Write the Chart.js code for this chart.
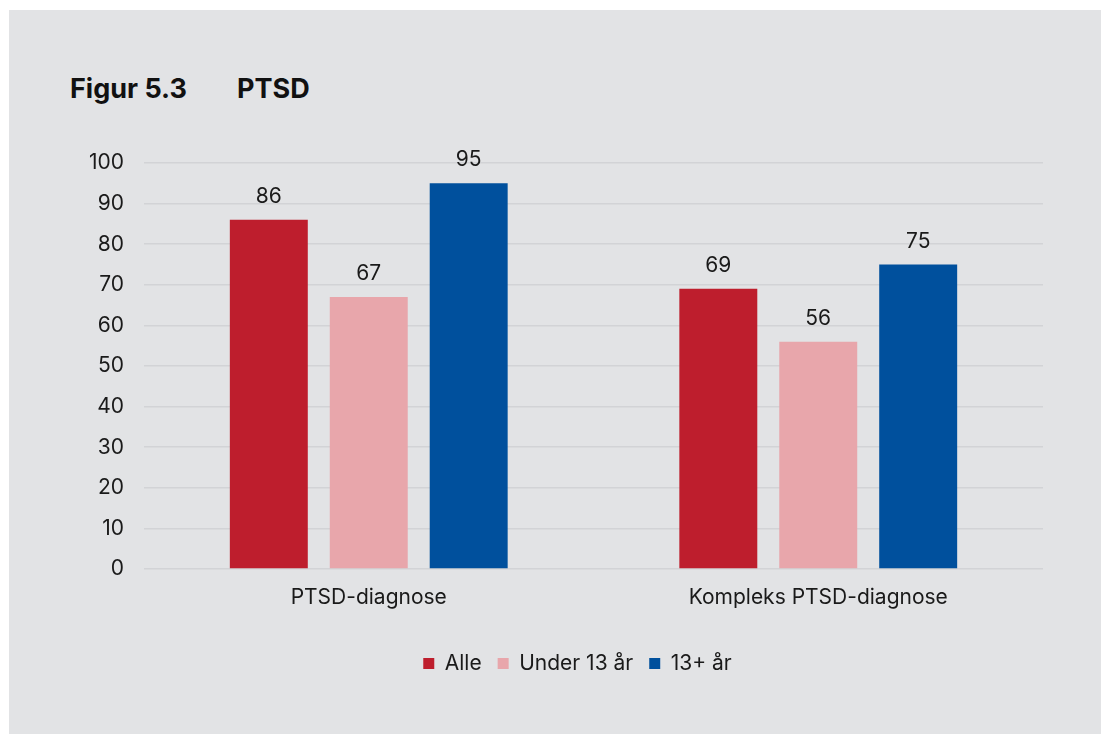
<!DOCTYPE html>
<html>
<head>
<meta charset="utf-8">
<script src="https://cdn.jsdelivr.net/npm/chart.js@4"></script>
<style>
  html, body { margin: 0; padding: 0; background: #fff; }
  body { width: 1101px; height: 734px; position: relative; overflow: hidden; font-family: Inter, "Noto Sans", sans-serif; }
  .panel { position: absolute; left: 9px; top: 10px; width: 1092px; height: 724px; background: #e2e3e5; }
  .title { position: absolute; top: 74px; font: 700 27px/30px Inter, sans-serif; color: #111; }
  .chartBox { position: absolute; left: 0; top: 0; width: 1101px; height: 734px; }
</style>
</head>
<body>
<div class="panel"></div>
<div class="title" style="left:70px">Figur 5.3</div>
<div class="title" style="left:237px">PTSD</div>
<div class="chartBox"><canvas id="chart"></canvas></div>
<script>
const categories = ["PTSD-diagnose", "Kompleks PTSD-diagnose"];
const seriesNames = ["Alle", "Under 13 år", "13+ år"];
const alle = [86, 69];
const under13 = [67, 56];
const over13 = [95, 75];
const seriesColors = ["#be1e2d", "#e8a6ab", "#00509d"];

const textColor = "#1a1a1a";
const tickFont = { family: "Inter", size: 21 };

// value labels above each bar
const valueLabels = {
    id: "valueLabels",
    afterDatasetsDraw(chart) {
        const ctx = chart.ctx;
        ctx.save();
        ctx.font = "21px Inter";
        ctx.fillStyle = textColor;
        ctx.textAlign = "center";
        ctx.textBaseline = "alphabetic";
        chart.data.datasets.forEach((ds, i) => {
            chart.getDatasetMeta(i).data.forEach((bar, j) => {
                ctx.fillText(ds.data[j], bar.x, bar.y - 17);
            });
        });
        ctx.restore();
    }
};

// nudge the legend a little right, as in the original
const legendShift = {
    id: "legendShift",
    afterLayout(chart) {
        chart.legend.left += 26;
        chart.legend.right += 26;
    }
};

const ctx = document.getElementById("chart").getContext("2d");
new Chart(ctx, {
    type: "bar",
    data: {
        labels: categories,
        datasets: [alle, under13, over13].map((d, i) => ({
            label: seriesNames[i],
            data: d,
            backgroundColor: seriesColors[i],
            categoryPercentage: 0.667,
            barPercentage: 0.78
        }))
    },
    options: {
        responsive: true,
        maintainAspectRatio: false,
        animation: false,
        layout: {
            padding: { left: 60, right: 58, top: 163, bottom: 50 }
        },
        plugins: {
            legend: {
                position: "bottom",
                labels: {
                    boxWidth: 11,
                    boxHeight: 11,
                    padding: 16,
                    color: textColor,
                    font: tickFont
                }
            },
            tooltip: { enabled: false }
        },
        scales: {
            x: {
                grid: { display: false, drawTicks: false },
                border: { display: false },
                ticks: { color: textColor, font: tickFont, padding: 16 },
                afterFit(s) { s.height = 68; }
            },
            y: {
                min: 0,
                max: 100,
                ticks: { stepSize: 10, color: textColor, font: tickFont, padding: 20 },
                grid: { color: "#d2d3d6", lineWidth: 1.5, drawTicks: false },
                border: { display: false },
                afterFit(s) { s.width = 84; }
            }
        }
    },
    plugins: [valueLabels, legendShift]
});
</script>
</body>
</html>
